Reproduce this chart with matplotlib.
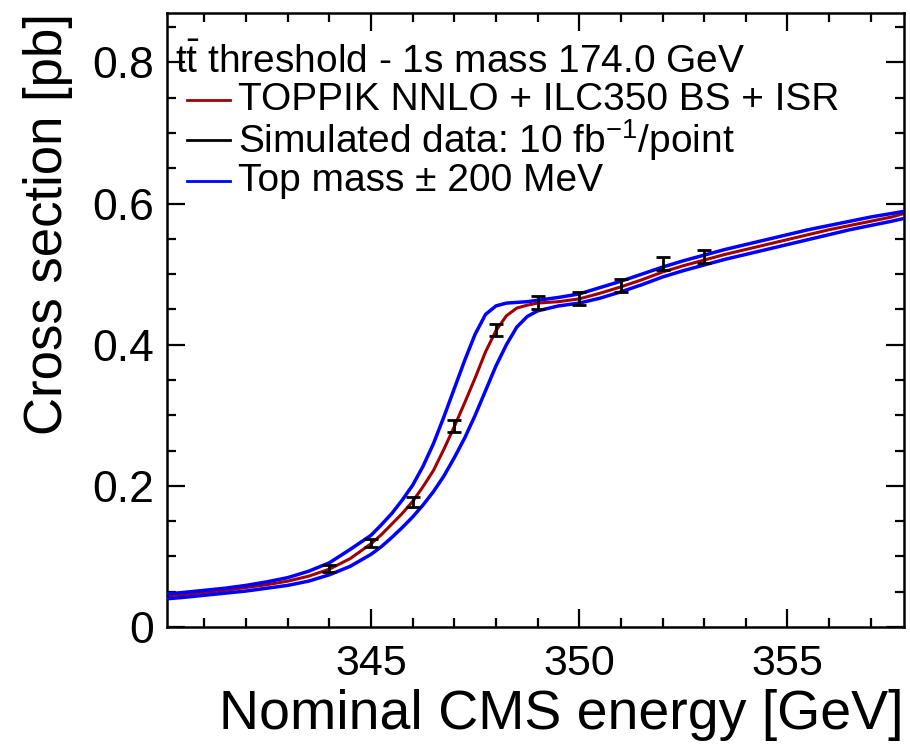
import numpy as np
import matplotlib
matplotlib.use("Agg")
import matplotlib.pyplot as plt

# ------------------------------------------------------------
# Values
# ------------------------------------------------------------
energy = [340.1, 340.5, 341.0, 341.5, 342.0, 342.5, 343.0, 343.5, 344.0, 344.5,
          345.0, 345.25, 345.5, 345.75, 346.0, 346.25, 346.5, 346.75, 347.0, 347.25,
          347.5, 347.75, 348.0, 348.25, 348.5, 348.75, 349.0, 349.5, 350.0, 350.5,
          351.0, 351.5, 352.0, 352.5, 353.0, 353.5, 354.0, 354.5, 355.0, 355.5,
          356.0, 356.5, 357.0, 357.5, 357.8]

# TOPPIK NNLO + ILC350 BS + ISR (nominal mass)
xsec_nominal = [0.044, 0.046, 0.049, 0.052, 0.056, 0.060, 0.065, 0.072, 0.082, 0.097,
                0.118, 0.131, 0.146, 0.161, 0.178, 0.199, 0.222, 0.252, 0.284, 0.318,
                0.353, 0.390, 0.420, 0.441, 0.452, 0.456, 0.459, 0.461, 0.465, 0.473,
                0.482, 0.492, 0.503, 0.512, 0.520, 0.528, 0.535, 0.542, 0.549, 0.556,
                0.563, 0.569, 0.575, 0.581, 0.586]

# top mass - 200 MeV (threshold earlier)
xsec_mass_low = [0.047, 0.049, 0.052, 0.055, 0.059, 0.064, 0.070, 0.079, 0.091, 0.110,
                 0.130, 0.145, 0.161, 0.180, 0.201, 0.228, 0.260, 0.298, 0.338, 0.378,
                 0.415, 0.443, 0.455, 0.459, 0.460, 0.461, 0.463, 0.467, 0.472, 0.481,
                 0.490, 0.500, 0.510, 0.519, 0.527, 0.535, 0.542, 0.549, 0.556, 0.563,
                 0.569, 0.575, 0.581, 0.586, 0.589]

# top mass + 200 MeV (threshold later)
xsec_mass_high = [0.040, 0.042, 0.045, 0.048, 0.051, 0.055, 0.059, 0.065, 0.074, 0.086,
                  0.103, 0.114, 0.127, 0.141, 0.156, 0.173, 0.192, 0.214, 0.240, 0.268,
                  0.300, 0.335, 0.370, 0.400, 0.425, 0.440, 0.448, 0.455, 0.459, 0.466,
                  0.475, 0.485, 0.496, 0.505, 0.513, 0.521, 0.528, 0.535, 0.542, 0.549,
                  0.556, 0.563, 0.569, 0.575, 0.579]

# simulated data, 10 fb^-1 per point
data_energy = [344, 345, 346, 347, 348, 349, 350, 351, 352, 353]
data_xsec = [0.083, 0.119, 0.177, 0.285, 0.421, 0.460, 0.466, 0.484, 0.515, 0.525]
data_err = [0.005, 0.006, 0.007, 0.008, 0.009, 0.009, 0.009, 0.009, 0.0095, 0.0095]

x_ticks = [345, 350, 355]
x_tick_labels = ['345', '350', '355']
y_ticks = [0, 0.2, 0.4, 0.6, 0.8]
y_tick_labels = ['0', '0.2', '0.4', '0.6', '0.8']

# ------------------------------------------------------------
# Style (ROOT-like)
# ------------------------------------------------------------
plt.rcParams['font.family'] = ['Liberation Sans', 'DejaVu Sans']
plt.rcParams['mathtext.fontset'] = 'custom'
plt.rcParams['mathtext.rm'] = 'Liberation Sans'
plt.rcParams['mathtext.it'] = 'Liberation Sans:italic'

fig = plt.figure(figsize=(9.10, 7.46), dpi=100)
ax = fig.add_axes([0.1835, 0.1595, 0.81, 0.823])

red = '#a00000'
blue = '#0000ff'

ax.plot(energy, xsec_nominal, color=red, lw=2.2, zorder=2)
ax.plot(energy, xsec_mass_low, color=blue, lw=2.5, zorder=3)
ax.plot(energy, xsec_mass_high, color=blue, lw=2.5, zorder=3)
ax.errorbar(data_energy, data_xsec, yerr=data_err, fmt='none', ecolor='black',
            elinewidth=2.0, capsize=4.8, capthick=2.0, zorder=4)

ax.set_xlim(340.1, 357.8)
ax.set_ylim(0, 0.87)

ax.set_xticks(x_ticks)
ax.set_xticklabels(x_tick_labels, fontsize=31)
ax.set_xticks(np.arange(341, 358, 1), minor=True)
ax.set_yticks(y_ticks)
ax.set_yticklabels(y_tick_labels, fontsize=32)
ax.set_yticks(np.arange(0.05, 0.87, 0.05), minor=True)

ax.tick_params(which='both', direction='in', top=True, right=True, width=1.6,
               color='black')
ax.tick_params(axis='x', which='major', length=13, pad=12)
ax.tick_params(axis='y', which='major', length=13, pad=9)
ax.tick_params(which='minor', length=6.5)
for sp in ax.spines.values():
    sp.set_linewidth(1.8)

ax.set_xlabel('Nominal CMS energy [GeV]', fontsize=40, loc='right', labelpad=4)
ax.set_ylabel('Cross section [pb]', fontsize=38, loc='top', labelpad=14)

# legend drawn by hand, ROOT TLegend style without border
ax.text(0.011, 0.919, r'$\mathrm{t\bar{t}}$ threshold - 1s mass 174.0 GeV',
        transform=ax.transAxes, fontsize=28, va='center', ha='left')
rows = [(0.858, red, 'TOPPIK NNLO + ILC350 BS + ISR'),
        (0.793, 'black', r'Simulated data: 10 fb$^{\mathregular{-1}}$/point'),
        (0.727, blue, 'Top mass ± 200 MeV')]
for ypos, col, label in rows:
    ax.plot([0.027, 0.085], [ypos, ypos], transform=ax.transAxes, color=col, lw=2.0)
    ax.text(0.096, ypos, label, transform=ax.transAxes, fontsize=28,
            va='center', ha='left')

fig.savefig('out.png', dpi=100)
